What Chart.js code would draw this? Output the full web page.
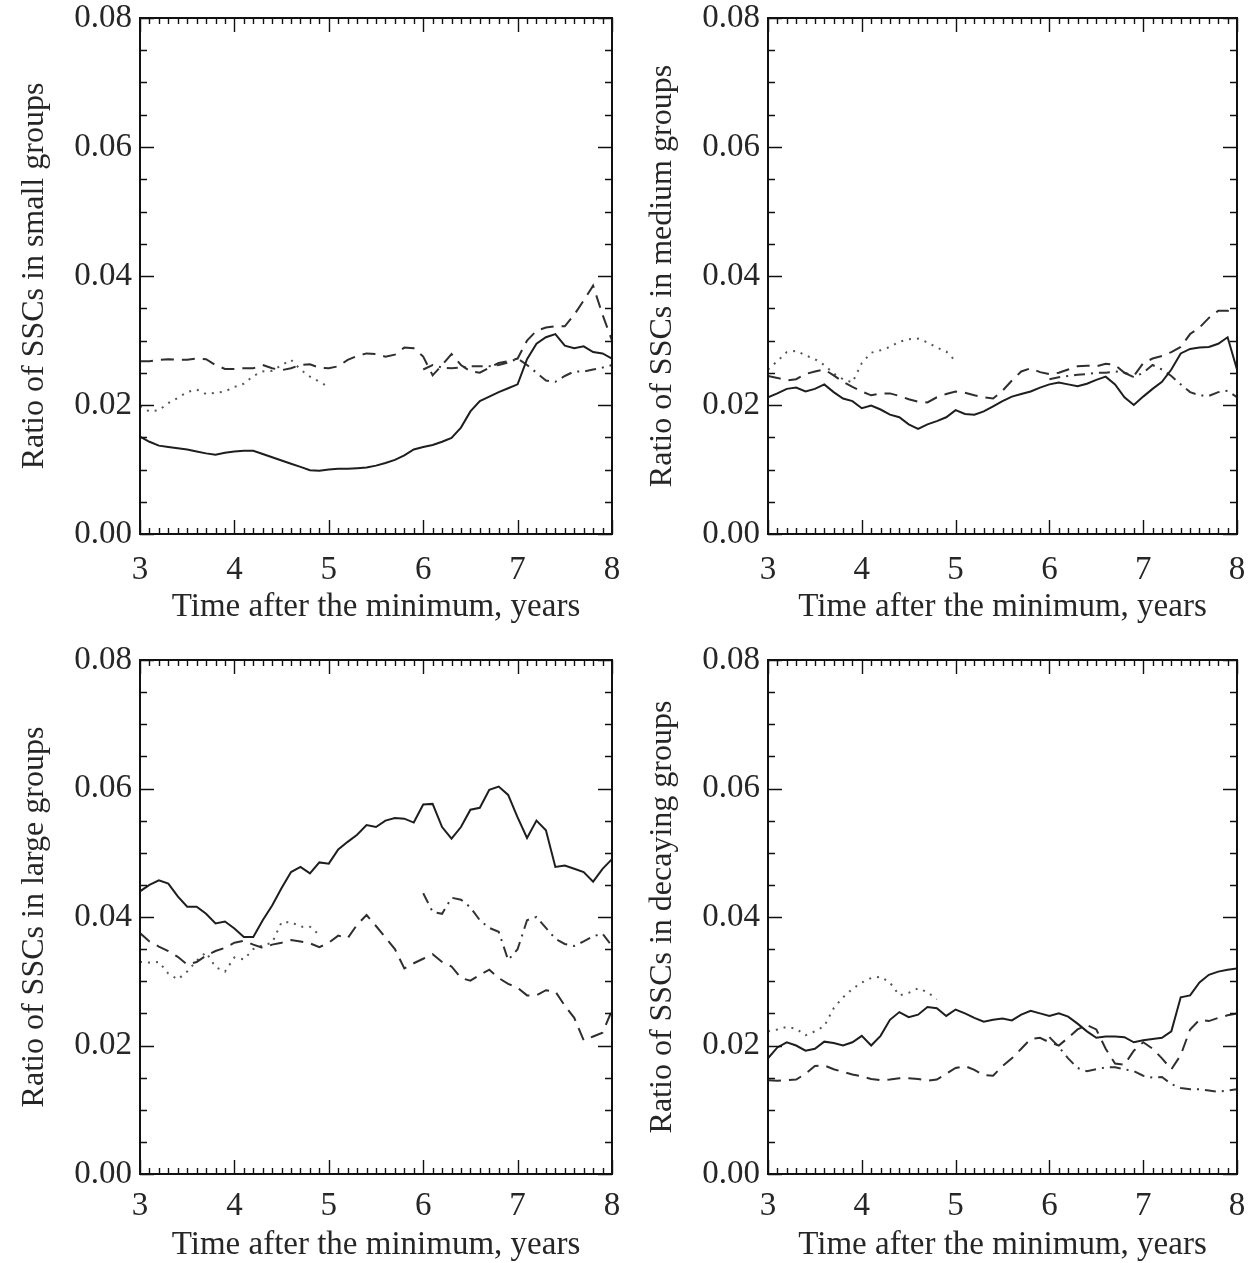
<!DOCTYPE html>
<html>
<head>
<meta charset="utf-8">
<script src="https://cdn.jsdelivr.net/npm/chart.js@4.4.1/dist/chart.umd.min.js"></script>
<style>
  html, body { margin: 0; padding: 0; background: #fff; }
  #page { position: relative; width: 1249px; height: 1263px; background: #fff; }
  .panel { position: absolute; }
</style>
</head>
<body>
<div id="page">
  <div class="panel" style="left:0;top:0"><canvas id="small" width="624" height="630"></canvas></div>
  <div class="panel" style="left:625px;top:0"><canvas id="medium" width="624" height="630"></canvas></div>
  <div class="panel" style="left:0;top:640px"><canvas id="large" width="624" height="623"></canvas></div>
  <div class="panel" style="left:625px;top:640px"><canvas id="decaying" width="624" height="623"></canvas></div>
</div>
<script>
// time after the minimum, years (0.1 y grid)
const T = [3.0, 3.1, 3.2, 3.3, 3.4, 3.5, 3.6, 3.7, 3.8, 3.9,
           4.0, 4.1, 4.2, 4.3, 4.4, 4.5, 4.6, 4.7, 4.8, 4.9,
           5.0, 5.1, 5.2, 5.3, 5.4, 5.5, 5.6, 5.7, 5.8, 5.9,
           6.0, 6.1, 6.2, 6.3, 6.4, 6.5, 6.6, 6.7, 6.8, 6.9,
           7.0, 7.1, 7.2, 7.3, 7.4, 7.5, 7.6, 7.7, 7.8, 7.9, 8.0];
const xTicks = [3, 4, 5, 6, 7, 8];
const yTicks = [0.00, 0.02, 0.04, 0.06, 0.08];

// dotted series start at 3.0 and stop early, dash-dot series start at 6.0
const smallSolid = [0.0151, 0.0143, 0.0137, 0.0135, 0.0133, 0.0131, 0.0128, 0.0125, 0.0123, 0.0126,
  0.0128, 0.0129, 0.0129, 0.0124, 0.0119, 0.0114, 0.0109, 0.0104, 0.0099, 0.0098,
  0.0100, 0.0101, 0.0101, 0.0102, 0.0103, 0.0106, 0.0110, 0.0115, 0.0122, 0.0131,
  0.0135, 0.0138, 0.0143, 0.0149, 0.0165, 0.0190, 0.0206, 0.0213, 0.0220, 0.0226,
  0.0232, 0.0271, 0.0295, 0.0305, 0.0310, 0.0292, 0.0288, 0.0291, 0.0282, 0.0280, 0.0272];
const smallDashed = [0.0268, 0.0268, 0.0270, 0.0271, 0.0270, 0.0270, 0.0272, 0.0271, 0.0262, 0.0256,
  0.0256, 0.0257, 0.0257, 0.0262, 0.0257, 0.0254, 0.0257, 0.0262, 0.0263, 0.0258,
  0.0257, 0.0260, 0.0270, 0.0276, 0.0280, 0.0279, 0.0275, 0.0278, 0.0289, 0.0288,
  0.0275, 0.0246, 0.0262, 0.0279, 0.0262, 0.0252, 0.0250, 0.0258, 0.0265, 0.0268,
  0.0272, 0.0300, 0.0315, 0.0320, 0.0322, 0.0322, 0.0340, 0.0362, 0.0385, 0.0340, 0.0300];
const smallDotted = [0.0198, 0.0190, 0.0192, 0.0203, 0.0211, 0.0220, 0.0224, 0.0217, 0.0219, 0.0221,
  0.0228, 0.0233, 0.0245, 0.0252, 0.0253, 0.0262, 0.0270, 0.0255, 0.0244, 0.0236, 0.0228];
const smallDashDot = [0.0255, 0.0262, 0.0258, 0.0257, 0.0258, 0.0260, 0.0260, 0.0260, 0.0262, 0.0266,
  0.0272, 0.0262, 0.0250, 0.0238, 0.0236, 0.0245, 0.0252, 0.0252, 0.0255, 0.0258, 0.0262];

const mediumSolid = [0.0212, 0.0218, 0.0225, 0.0227, 0.0221, 0.0225, 0.0232, 0.0220, 0.0210, 0.0206,
  0.0195, 0.0199, 0.0193, 0.0185, 0.0181, 0.0170, 0.0163, 0.0170, 0.0175, 0.0181,
  0.0192, 0.0186, 0.0185, 0.0190, 0.0198, 0.0206, 0.0213, 0.0217, 0.0221, 0.0227,
  0.0232, 0.0235, 0.0232, 0.0229, 0.0233, 0.0239, 0.0244, 0.0232, 0.0212, 0.0200,
  0.0213, 0.0225, 0.0236, 0.0255, 0.0280, 0.0287, 0.0289, 0.0290, 0.0295, 0.0305, 0.0255];
const mediumDashed = [0.0245, 0.0242, 0.0238, 0.0240, 0.0248, 0.0252, 0.0255, 0.0246, 0.0236, 0.0228,
  0.0221, 0.0215, 0.0218, 0.0218, 0.0214, 0.0209, 0.0205, 0.0204, 0.0212, 0.0217,
  0.0221, 0.0219, 0.0215, 0.0212, 0.0210, 0.0222, 0.0238, 0.0252, 0.0257, 0.0251,
  0.0248, 0.0250, 0.0255, 0.0260, 0.0261, 0.0260, 0.0264, 0.0262, 0.0250, 0.0245,
  0.0265, 0.0272, 0.0276, 0.0282, 0.0290, 0.0310, 0.0320, 0.0335, 0.0346, 0.0346, 0.0345];
const mediumDotted = [0.0255, 0.0268, 0.0282, 0.0284, 0.0277, 0.0271, 0.0262, 0.0249, 0.0240, 0.0235,
  0.0265, 0.0281, 0.0285, 0.0290, 0.0298, 0.0302, 0.0303, 0.0297, 0.0289, 0.0283, 0.0268];
const mediumDashDot = [0.0240, 0.0243, 0.0245, 0.0247, 0.0248, 0.0250, 0.0250, 0.0252, 0.0250, 0.0243,
  0.0250, 0.0262, 0.0255, 0.0245, 0.0232, 0.0220, 0.0215, 0.0214, 0.0220, 0.0222, 0.0212];

const largeSolid = [0.0440, 0.0450, 0.0457, 0.0452, 0.0432, 0.0416, 0.0416, 0.0405, 0.0390, 0.0393,
  0.0382, 0.0369, 0.0369, 0.0395, 0.0418, 0.0445, 0.0470, 0.0478, 0.0468, 0.0485,
  0.0483, 0.0505, 0.0517, 0.0528, 0.0543, 0.0540, 0.0550, 0.0554, 0.0553, 0.0547,
  0.0575, 0.0576, 0.0540, 0.0522, 0.0540, 0.0567, 0.0570, 0.0598, 0.0603, 0.0590,
  0.0555, 0.0523, 0.0550, 0.0535, 0.0478, 0.0480, 0.0475, 0.0470, 0.0455, 0.0475, 0.0490];
const largeDashed = [0.0375, 0.0362, 0.0354, 0.0347, 0.0338, 0.0326, 0.0330, 0.0340, 0.0347, 0.0352,
  0.0360, 0.0363, 0.0357, 0.0352, 0.0357, 0.0360, 0.0364, 0.0362, 0.0359, 0.0353,
  0.0360, 0.0371, 0.0367, 0.0388, 0.0403, 0.0386, 0.0368, 0.0350, 0.0320, 0.0328,
  0.0335, 0.0342, 0.0330, 0.0323, 0.0305, 0.0301, 0.0310, 0.0318, 0.0305, 0.0296,
  0.0290, 0.0278, 0.0278, 0.0286, 0.0284, 0.0262, 0.0243, 0.0208, 0.0214, 0.0220, 0.0255];
const largeDotted = [0.0330, 0.0329, 0.0330, 0.0312, 0.0303, 0.0315, 0.0332, 0.0345, 0.0322, 0.0315,
  0.0337, 0.0334, 0.0350, 0.0356, 0.0360, 0.0392, 0.0392, 0.0385, 0.0385, 0.0372];
const largeDashDot = [0.0437, 0.0408, 0.0405, 0.0430, 0.0427, 0.0415, 0.0395, 0.0383, 0.0377, 0.0333,
  0.0350, 0.0395, 0.0400, 0.0383, 0.0366, 0.0358, 0.0355, 0.0362, 0.0370, 0.0374, 0.0355];

const decayingSolid = [0.0180, 0.0197, 0.0205, 0.0200, 0.0192, 0.0195, 0.0206, 0.0204, 0.0200, 0.0205,
  0.0215, 0.0200, 0.0215, 0.0240, 0.0252, 0.0244, 0.0248, 0.0260, 0.0258, 0.0246,
  0.0256, 0.0250, 0.0243, 0.0237, 0.0240, 0.0242, 0.0239, 0.0248, 0.0254, 0.0250,
  0.0246, 0.0250, 0.0245, 0.0234, 0.0222, 0.0212, 0.0214, 0.0214, 0.0213, 0.0205,
  0.0208, 0.0210, 0.0212, 0.0222, 0.0275, 0.0278, 0.0298, 0.0310, 0.0315, 0.0318, 0.0320];
const decayingDashed = [0.0146, 0.0145, 0.0146, 0.0147, 0.0156, 0.0168, 0.0169, 0.0163, 0.0159, 0.0155,
  0.0152, 0.0148, 0.0146, 0.0147, 0.0149, 0.0149, 0.0148, 0.0145, 0.0147, 0.0156,
  0.0165, 0.0168, 0.0162, 0.0154, 0.0153, 0.0168, 0.0180, 0.0195, 0.0210, 0.0212,
  0.0205, 0.0200, 0.0212, 0.0225, 0.0232, 0.0225, 0.0195, 0.0172, 0.0170, 0.0192,
  0.0205, 0.0195, 0.0180, 0.0163, 0.0185, 0.0225, 0.0240, 0.0238, 0.0243, 0.0247, 0.0250];
const decayingDotted = [0.0222, 0.0225, 0.0229, 0.0226, 0.0216, 0.0222, 0.0230, 0.0258, 0.0275, 0.0288,
  0.0298, 0.0305, 0.0307, 0.0298, 0.0278, 0.0282, 0.0289, 0.0283, 0.0272];
const decayingDashDot = [0.0213, 0.0198, 0.0180, 0.0165, 0.0160, 0.0163, 0.0166, 0.0166, 0.0163, 0.0160,
  0.0153, 0.0150, 0.0151, 0.0140, 0.0134, 0.0132, 0.0132, 0.0130, 0.0128, 0.0130, 0.0132];

const FONT = '"Liberation Serif", "DejaVu Serif", serif';
const INK = '#262626';

// pair values with times; early series start at T[0], late series end at T[last]
function early(vals) { return vals.map((v, i) => ({ x: T[i], y: v })); }
function late(vals) { const off = T.length - vals.length; return vals.map((v, i) => ({ x: T[off + i], y: v })); }

// inward ticks on all four sides plus the frame
const frameTicks = {
  id: 'frameTicks',
  afterDatasetsDraw(chart) {
    const { ctx, chartArea: a, scales: { x, y } } = chart;
    ctx.save();
    ctx.strokeStyle = '#111';
    ctx.lineWidth = 1.4;
    ctx.beginPath();
    for (let i = 0; i <= 50; i++) {
      const px = Math.round(x.getPixelForValue(3 + i / 10)) + 0.5;
      const len = i % 10 === 0 ? 14 : 6;
      ctx.moveTo(px, a.bottom); ctx.lineTo(px, a.bottom - len);
      ctx.moveTo(px, a.top); ctx.lineTo(px, a.top + len);
    }
    for (let i = 0; i <= 16; i++) {
      const py = Math.round(y.getPixelForValue(i * 0.005)) + 0.5;
      const len = i % 4 === 0 ? 14 : 7;
      ctx.moveTo(a.left, py); ctx.lineTo(a.left + len, py);
      ctx.moveTo(a.right, py); ctx.lineTo(a.right - len, py);
    }
    ctx.stroke();
    ctx.lineWidth = 2;
    ctx.strokeRect(a.left, a.top, a.right - a.left, a.bottom - a.top);
    ctx.restore();
  }
};

function makePanel(id, title, solid, dashed, dotted, dashDot, geo) {
  const ds = (data, dash, width, color) => ({
    data, borderColor: color, borderWidth: width, borderDash: dash,
    pointRadius: 0, tension: 0, fill: false, spanGaps: false
  });
  new Chart(document.getElementById(id), {
    type: 'line',
    data: {
      datasets: [
        ds(early(solid), [], 2, '#1e1e1e'),
        ds(early(dashed), [13, 8], 2, '#2e2e2e'),
        ds(early(dotted), [2, 6], 2, '#555'),
        ds(late(dashDot), [11, 6, 2, 6], 2, '#333')
      ]
    },
    options: {
      responsive: false,
      devicePixelRatio: 1,
      animation: false,
      events: [],
      layout: { padding: { top: geo.top, right: 12, left: 0, bottom: 0 } },
      plugins: { legend: { display: false }, tooltip: { enabled: false } },
      scales: {
        x: {
          type: 'linear', min: 3, max: 8,
          afterBuildTicks: (s) => { s.ticks = xTicks.map(v => ({ value: v })); },
          afterFit: (s) => { s.height = geo.xh; s.paddingLeft = 0; s.paddingRight = 0; },
          grid: { display: false, drawTicks: false },
          border: { display: false },
          ticks: { color: INK, font: { family: FONT, size: 33 }, padding: geo.xpad, maxRotation: 0,
                   callback: (v) => String(v) },
          title: { display: true, text: 'Time after the minimum, years', color: INK,
                   font: { family: FONT, size: 33, lineHeight: geo.tlh }, padding: { top: 0, bottom: geo.tpad } }
        },
        y: {
          type: 'linear', min: 0, max: 0.08,
          afterBuildTicks: (s) => { s.ticks = yTicks.map(v => ({ value: v })); },
          afterFit: (s) => { s.width = geo.yw; s.paddingTop = 0; s.paddingBottom = 0; },
          grid: { display: false, drawTicks: false },
          border: { display: false },
          ticks: { color: INK, font: { family: FONT, size: 33 }, padding: 8,
                   callback: (v) => Number(v).toFixed(2) },
          title: { display: true, text: title, color: INK,
                   font: { family: FONT, size: 32 }, padding: { top: geo.ytpad, bottom: 0 } }
        }
      }
    },
    plugins: [frameTicks]
  });
}

const topRow = { top: 18, xh: 96, xpad: 17, tpad: 3, tlh: 1.2 };
const botRow = { top: 20, xh: 89, xpad: 13, tpad: 0, tlh: 1.1 };

makePanel('small', 'Ratio of SSCs in small groups', smallSolid, smallDashed, smallDotted, smallDashDot,
  Object.assign({ yw: 140, ytpad: 15 }, topRow));
makePanel('medium', 'Ratio of SSCs in medium groups', mediumSolid, mediumDashed, mediumDotted, mediumDashDot,
  Object.assign({ yw: 143, ytpad: 18 }, topRow));
makePanel('large', 'Ratio of SSCs in large groups', largeSolid, largeDashed, largeDotted, largeDashDot,
  Object.assign({ yw: 140, ytpad: 15 }, botRow));
makePanel('decaying', 'Ratio of SSCs in decaying groups', decayingSolid, decayingDashed, decayingDotted, decayingDashDot,
  Object.assign({ yw: 143, ytpad: 18 }, botRow));
</script>
</body>
</html>
